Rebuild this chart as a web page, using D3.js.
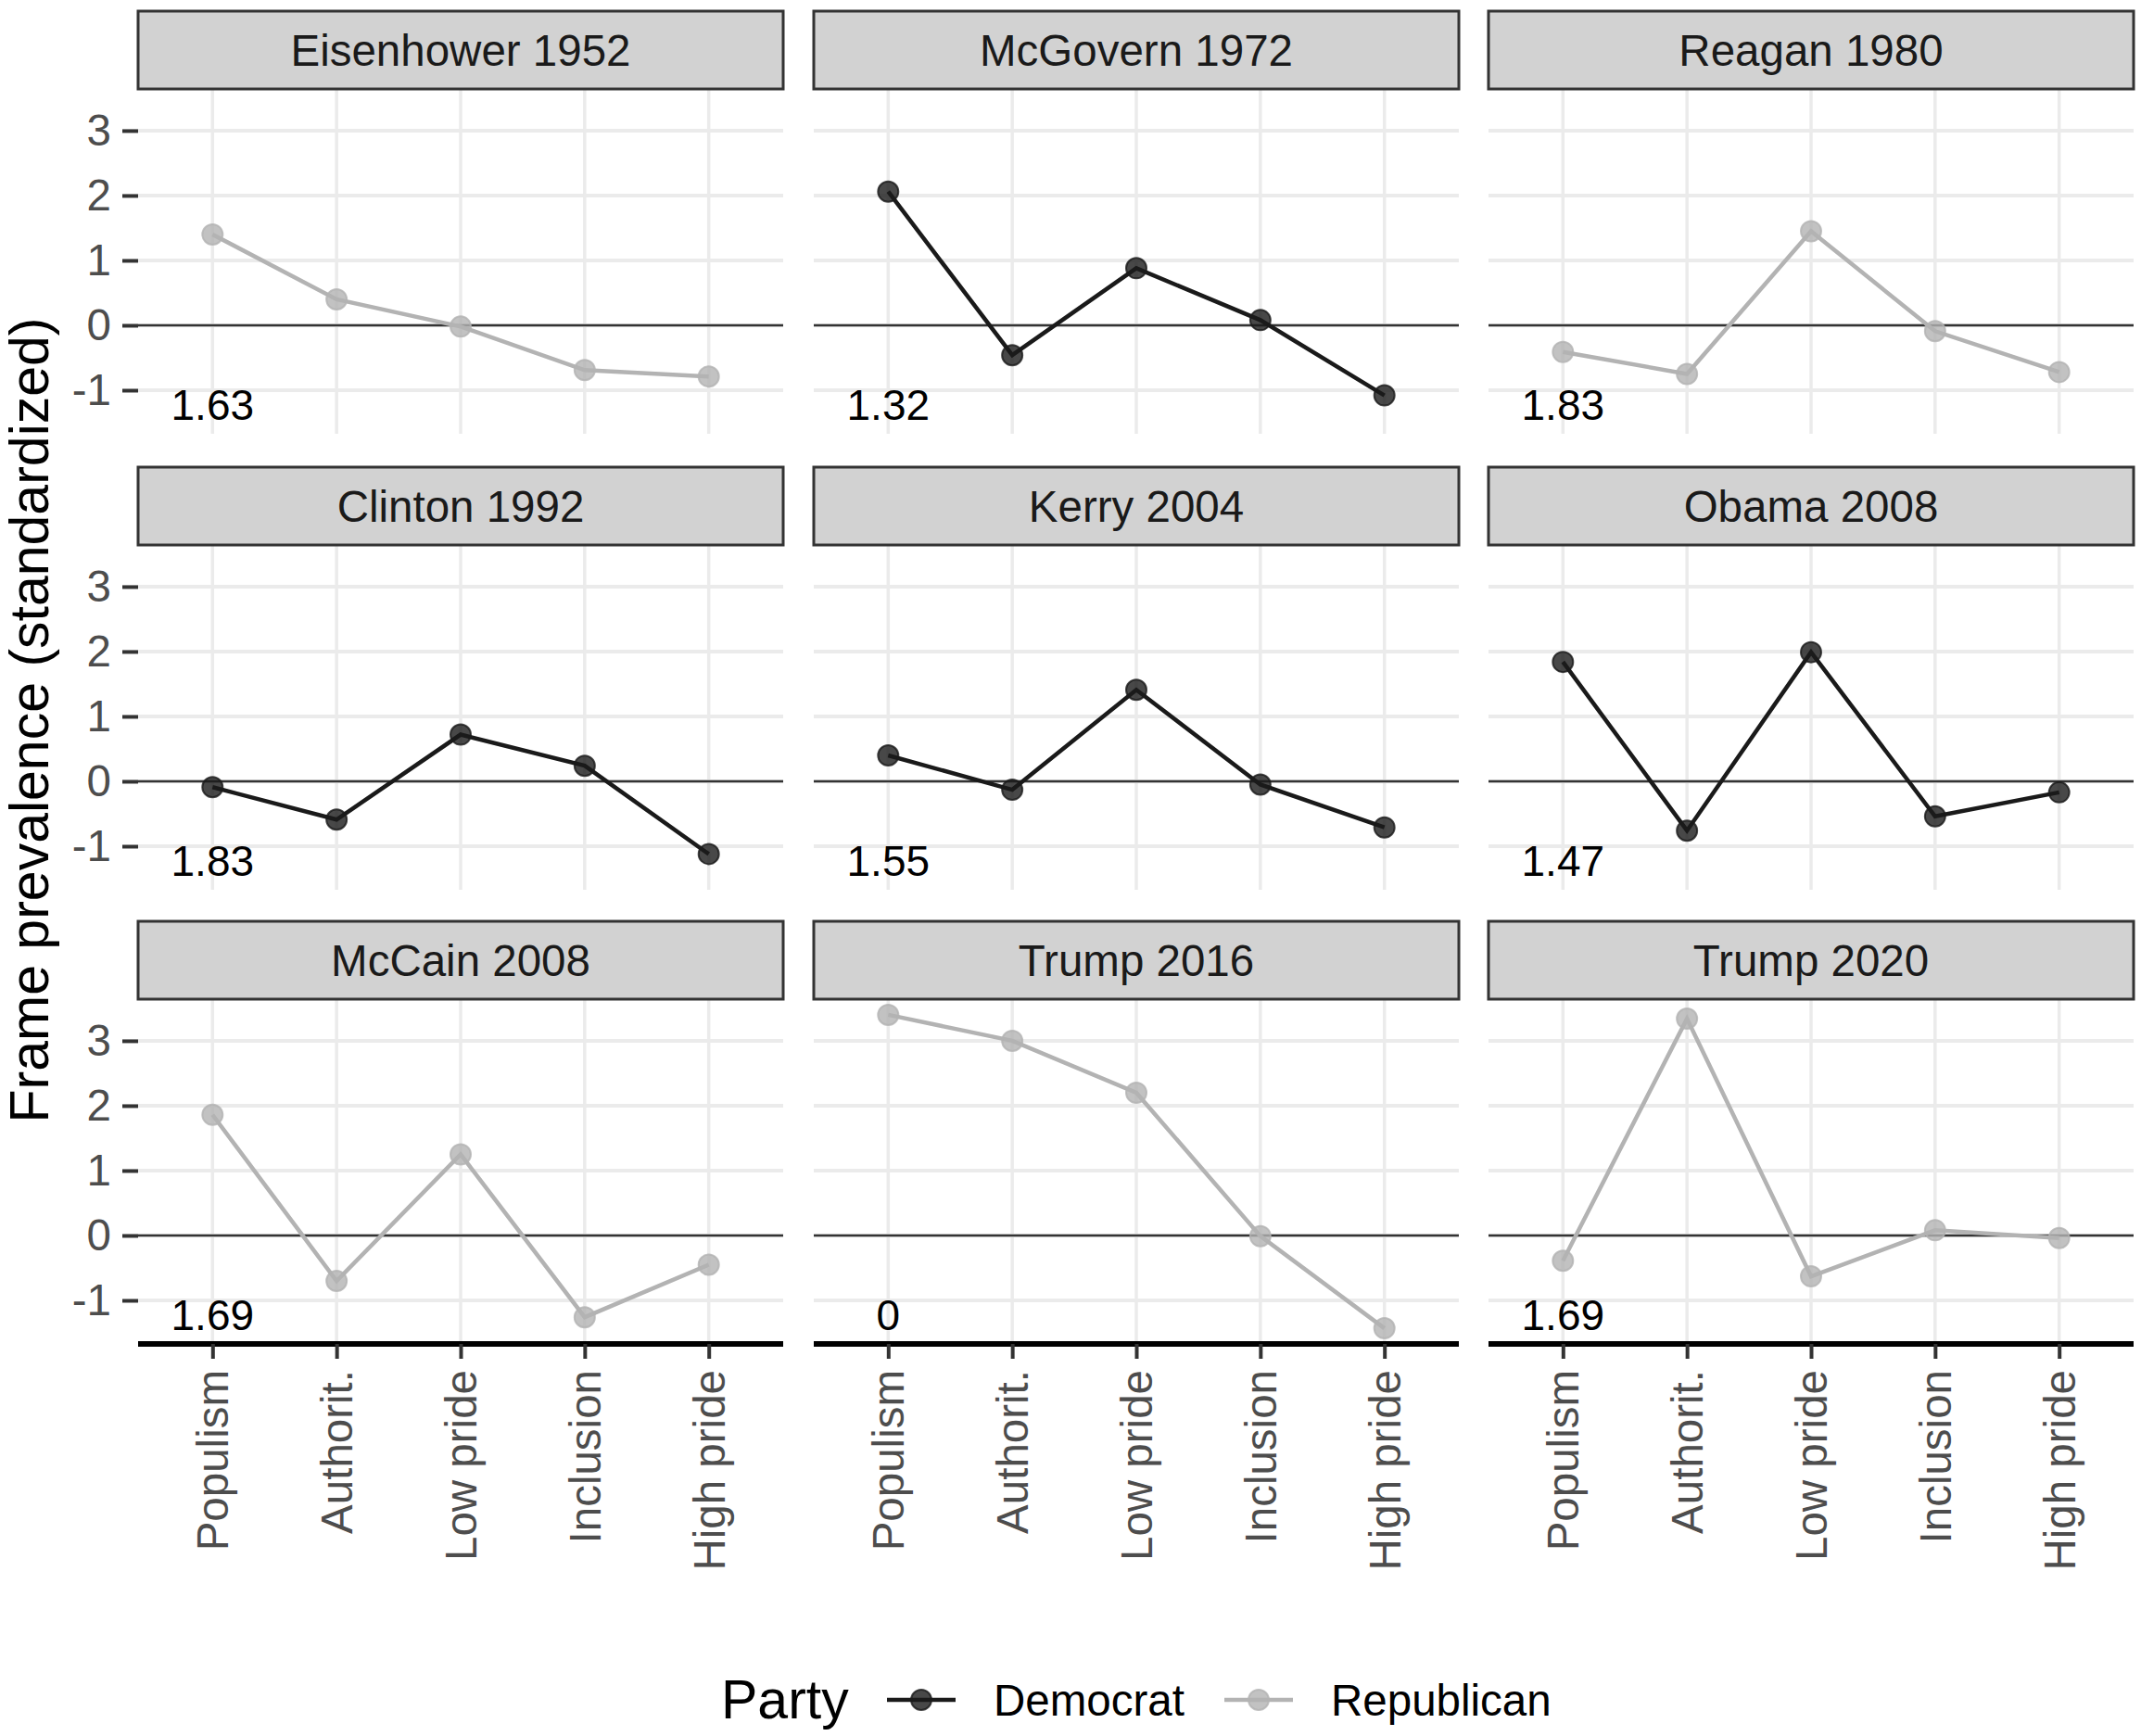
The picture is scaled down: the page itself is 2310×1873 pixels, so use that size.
<!DOCTYPE html>
<html>
<head>
<meta charset="utf-8">
<script src="https://cdn.jsdelivr.net/npm/d3@7"></script>
<style>
  body { margin: 0; background: #fff; }
  text { font-family: "Liberation Sans", Arial, sans-serif; }
</style>
</head>
<body>
<script>
// chart values
var frames = ["Populism", "Authorit.", "Low pride", "Inclusion", "High pride"];
var candidates = ["Eisenhower 1952", "McGovern 1972", "Reagan 1980",
                  "Clinton 1992", "Kerry 2004", "Obama 2008",
                  "McCain 2008", "Trump 2016", "Trump 2020"];
var party = ["Republican", "Democrat", "Republican",
             "Democrat", "Democrat", "Democrat",
             "Republican", "Republican", "Republican"];
var scoreLabels = ["1.63", "1.32", "1.83", "1.83", "1.55", "1.47", "1.69", "0", "1.69"];
var values = [
  [1.40, 0.40, -0.02, -0.69, -0.79],
  [2.06, -0.46, 0.88, 0.08, -1.08],
  [-0.41, -0.75, 1.45, -0.09, -0.72],
  [-0.09, -0.59, 0.72, 0.24, -1.12],
  [0.40, -0.13, 1.41, -0.05, -0.71],
  [1.84, -0.76, 1.99, -0.54, -0.17],
  [1.86, -0.70, 1.25, -1.26, -0.45],
  [3.40, 3.00, 2.20, -0.01, -1.43],
  [-0.39, 3.34, -0.63, 0.08, -0.04]
];
var yTicks = [-1, 0, 1, 2, 3];
var partyNames = ["Democrat", "Republican"];
var partyColors = ["#1a1a1a", "#b3b3b3"];

var width = 2310, height = 1873;
var colX = [149, 878, 1606];
var stripTop = [12, 504, 994];
var pw = 696, ph = 372, sh = 84;
var fs = 47.5;

var svg = d3.select("body").append("svg")
    .attr("width", width)
    .attr("height", height);
svg.append("rect").attr("width", width).attr("height", height).attr("fill", "#fff");

var colour = d3.scaleOrdinal().domain(partyNames).range(partyColors);

var x = d3.scalePoint().domain(frames).range([0, pw]).padding(0.6);
var all = d3.merge(values);
var lo = d3.min(all), hi = d3.max(all), pad = (hi - lo) * 0.05;
var y = d3.scaleLinear().domain([lo - pad, hi + pad]).range([ph, 0]);

var line = d3.line()
    .x(function(d, i) { return x(frames[i]); })
    .y(function(d) { return y(d); });

candidates.forEach(function(name, k) {
  var col = k % 3, row = Math.floor(k / 3);
  var g = svg.append("g")
      .attr("transform", "translate(" + colX[col] + "," + (stripTop[row] + sh) + ")");

  // grid
  g.selectAll(".hg").data(yTicks).enter().append("line")
      .attr("x1", 0).attr("x2", pw)
      .attr("y1", function(d) { return y(d); })
      .attr("y2", function(d) { return y(d); })
      .attr("stroke", "#ebebeb").attr("stroke-width", 4);
  g.selectAll(".vg").data(frames).enter().append("line")
      .attr("y1", 0).attr("y2", ph)
      .attr("x1", function(d) { return x(d); })
      .attr("x2", function(d) { return x(d); })
      .attr("stroke", "#ebebeb").attr("stroke-width", 3.5);

  // zero line
  g.append("line")
      .attr("x1", 0).attr("x2", pw)
      .attr("y1", y(0)).attr("y2", y(0))
      .attr("stroke", "#333").attr("stroke-width", 2.5);

  var c = colour(party[k]);
  g.append("path")
      .attr("d", line(values[k]))
      .attr("fill", "none")
      .attr("stroke", c)
      .attr("stroke-width", 4.5);
  g.selectAll("circle").data(values[k]).enter().append("circle")
      .attr("cx", function(d, i) { return x(frames[i]); })
      .attr("cy", function(d) { return y(d); })
      .attr("r", 11)
      .attr("fill", c).attr("fill-opacity", 0.8)
      .attr("stroke", c).attr("stroke-opacity", 0.8).attr("stroke-width", 2);

  g.append("text")
      .attr("x", x(frames[0]))
      .attr("y", y(-1.23))
      .attr("text-anchor", "middle")
      .attr("dominant-baseline", "central")
      .attr("font-size", 46)
      .attr("fill", "#000")
      .text(scoreLabels[k]);

  // strip
  var s = svg.append("g").attr("transform", "translate(" + colX[col] + "," + stripTop[row] + ")");
  s.append("rect")
      .attr("x", 0).attr("y", 0).attr("width", pw).attr("height", sh)
      .attr("fill", "#d2d2d2").attr("stroke", "#333").attr("stroke-width", 3);
  s.append("text")
      .attr("x", pw / 2).attr("y", sh / 2)
      .attr("text-anchor", "middle")
      .attr("dominant-baseline", "central")
      .attr("font-size", fs)
      .attr("fill", "#1a1a1a")
      .text(name);

  // y axis on left column
  if (col === 0) {
    var ya = svg.append("g")
        .attr("transform", "translate(" + colX[0] + "," + (stripTop[row] + sh) + ")")
        .call(d3.axisLeft(y).tickValues(yTicks).tickSize(17).tickPadding(12)
          .tickFormat(function(d) { return String(d); }));
    ya.select(".domain").remove();
    ya.selectAll(".tick line").attr("stroke", "#333").attr("stroke-width", 4);
    ya.selectAll(".tick text")
        .attr("font-size", fs).attr("fill", "#4d4d4d")
        .attr("font-family", "Liberation Sans, Arial, sans-serif");
  }

  // x axis on bottom row
  if (row === 2) {
    var xa = svg.append("g")
        .attr("transform", "translate(" + colX[col] + "," + (stripTop[row] + sh + ph) + ")")
        .call(d3.axisBottom(x).tickSize(16).tickSizeOuter(0));
    xa.select(".domain").attr("stroke", "#000").attr("stroke-width", 6)
        .attr("d", "M0,0H" + pw);
    xa.selectAll(".tick line").attr("stroke", "#333").attr("stroke-width", 4);
    xa.selectAll(".tick text")
        .attr("font-size", fs).attr("fill", "#4d4d4d")
        .attr("font-family", "Liberation Sans, Arial, sans-serif")
        .attr("transform", "rotate(-90)")
        .attr("x", -28).attr("y", 0).attr("dy", null)
        .attr("text-anchor", "end")
        .attr("dominant-baseline", "central");
  }
});

// y axis title
svg.append("text")
    .attr("transform", "translate(52,777) rotate(-90)")
    .attr("text-anchor", "middle")
    .attr("font-size", 59)
    .attr("fill", "#000")
    .text("Frame prevalence (standardized)");

// legend
var leg = svg.append("g").attr("transform", "translate(0,1834)");
leg.append("text")
    .attr("x", 778).attr("y", 0)
    .attr("dominant-baseline", "central")
    .attr("font-size", 59)
    .text("Party");
var keyX = [957, 1321];
partyNames.forEach(function(p, i) {
  var c = colour(p);
  leg.append("line")
      .attr("x1", keyX[i]).attr("x2", keyX[i] + 74)
      .attr("y1", 0).attr("y2", 0)
      .attr("stroke", c).attr("stroke-width", 4.5);
  leg.append("circle")
      .attr("cx", keyX[i] + 37).attr("cy", 0).attr("r", 11)
      .attr("fill", c).attr("fill-opacity", 0.8)
      .attr("stroke", c).attr("stroke-opacity", 0.8).attr("stroke-width", 2);
  leg.append("text")
      .attr("x", keyX[i] + 115).attr("y", 0)
      .attr("dominant-baseline", "central")
      .attr("font-size", fs)
      .text(p);
});
</script>
</body>
</html>
